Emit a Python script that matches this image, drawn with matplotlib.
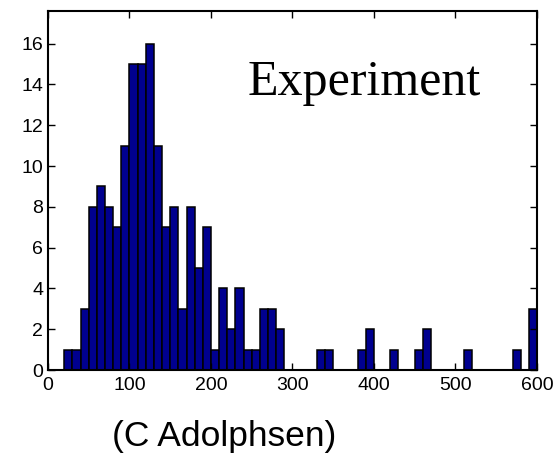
# histogram of measured values, "Experiment"

import numpy as np
import matplotlib.pyplot as plt

# bin left edges (width 10) and counts
bin_left = np.arange(0, 600, 10)
counts = [0, 0, 1, 1, 3, 8, 9, 8, 7, 11,
          15, 15, 16, 11, 7, 8, 3, 8, 5, 7,
          1, 4, 2, 4, 1, 1, 3, 3, 2, 0,
          0, 0, 0, 1, 1, 0, 0, 0, 1, 2,
          0, 0, 1, 0, 0, 1, 2, 0, 0, 0,
          0, 1, 0, 0, 0, 0, 0, 1, 0, 3]
x_ticks = [0, 100, 200, 300, 400, 500, 600]
y_ticks = [0, 2, 4, 6, 8, 10, 12, 14, 16]

plt.rcParams['font.family'] = ['Liberation Sans', 'DejaVu Sans']

fig = plt.figure(figsize=(5.53, 4.58), dpi=100)
ax = fig.add_axes([0.0868, 0.1921, 0.8842, 0.7839])

ax.bar(bin_left, counts, width=10, align='edge',
       color='#00008f', edgecolor='black', linewidth=1.1)

ax.set_xlim(0, 600)
ax.set_ylim(0, 17.6)
ax.set_xticks(x_ticks)
ax.set_yticks(y_ticks)
ax.tick_params(direction='in', top=True, right=True, length=5,
               width=1, labelsize=14)
ax.tick_params(axis='x', pad=5)
for s in ax.spines.values():
    s.set_linewidth(1.5)

ax.text(0.408, 0.8, 'Experiment', transform=ax.transAxes,
        family='Liberation Serif', fontsize=36, va='center', ha='left')

fig.text(0.405, 0.01, '(C Adolphsen)', fontsize=25.5, ha='center', va='bottom')

plt.savefig('out.png', dpi=100)
